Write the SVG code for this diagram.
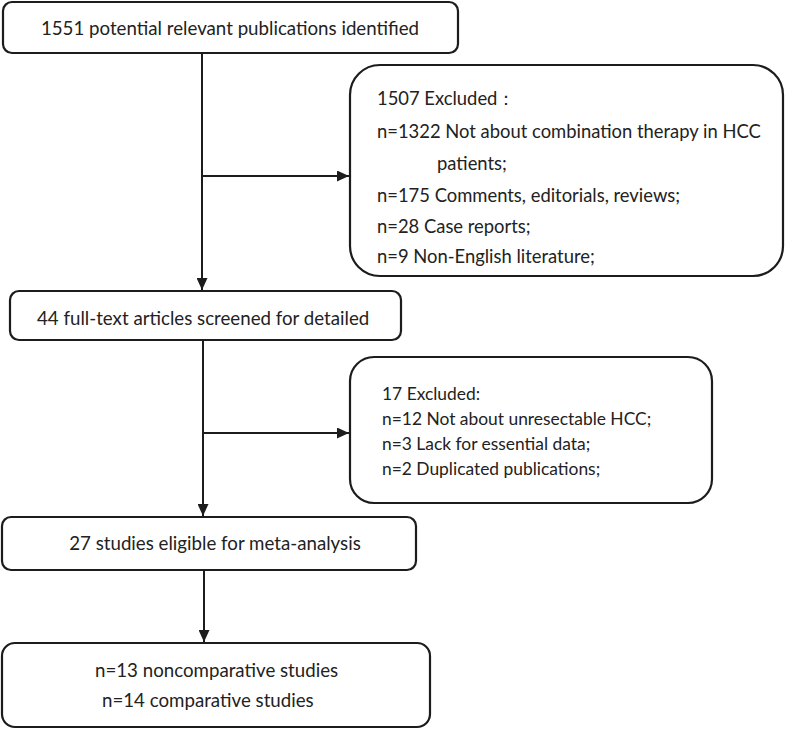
<svg xmlns="http://www.w3.org/2000/svg" width="787" height="730" viewBox="0 0 787 730">
<defs>
<style>
.box{fill:#fff;stroke:#1c1c1c;stroke-width:2.2}
.ln{stroke:#1c1c1c;stroke-width:2;fill:none}
text{font-family:Lato,"Noto Sans","Liberation Sans",sans-serif;font-size:18.7px;fill:#222}
.c{text-anchor:middle}
.s2{font-size:18.4px}
.s4{font-size:17.4px}
</style>
<marker id="ah" viewBox="0 0 10 10" refX="10" refY="5" markerWidth="6" markerHeight="5.5" markerUnits="strokeWidth" orient="auto" preserveAspectRatio="none">
<path d="M0,0 L10,5 L0,10 z" fill="#1c1c1c"/>
</marker>
</defs>
<g id="connectors">
<line class="ln" x1="202" y1="53" x2="202" y2="290" marker-end="url(#ah)"/>
<line class="ln" x1="202" y1="176" x2="349" y2="176" marker-end="url(#ah)"/>
<line class="ln" x1="203" y1="340" x2="203" y2="516" marker-end="url(#ah)"/>
<line class="ln" x1="203" y1="433" x2="349" y2="433" marker-end="url(#ah)"/>
<line class="ln" x1="204" y1="570" x2="204" y2="642" marker-end="url(#ah)"/>
</g>
<g id="n1">
<rect class="box" x="3" y="2" width="455" height="51" rx="9"/>
<text class="c" x="230" y="35">1551 potential relevant publications identified</text>
</g>
<g id="n2">
<rect class="box" x="350" y="65" width="433" height="211" rx="30"/>
<text class="s2" x="377" y="105">1507 Excluded：</text>
<text class="s2" x="377" y="138">n=1322 Not about combination therapy in HCC</text>
<text class="s2" x="437" y="170">patients;</text>
<text class="s2" x="377" y="202">n=175 Comments, editorials, reviews;</text>
<text class="s2" x="377" y="233">n=28 Case reports;</text>
<text class="s2" x="377" y="263">n=9 Non-English literature;</text>
</g>
<g id="n3">
<rect class="box" x="10" y="291" width="391" height="49" rx="9"/>
<text x="37" y="325">44 full-text articles screened for detailed</text>
</g>
<g id="n4">
<rect class="box" x="350" y="357" width="362" height="146" rx="24"/>
<text class="s4" x="382" y="400">17 Excluded:</text>
<text class="s4" x="382" y="425">n=12 Not about unresectable HCC;</text>
<text class="s4" x="382" y="450">n=3 Lack for essential data;</text>
<text class="s4" x="382" y="475">n=2 Duplicated publications;</text>
</g>
<g id="n5">
<rect class="box" x="2" y="517" width="414" height="53" rx="9"/>
<text class="c" x="215" y="550">27 studies eligible for meta-analysis</text>
</g>
<g id="n6">
<rect class="box" x="2" y="643" width="428" height="84" rx="13"/>
<text x="95" y="677">n=13 noncomparative studies</text>
<text x="102" y="707">n=14 comparative studies</text>
</g>
</svg>
